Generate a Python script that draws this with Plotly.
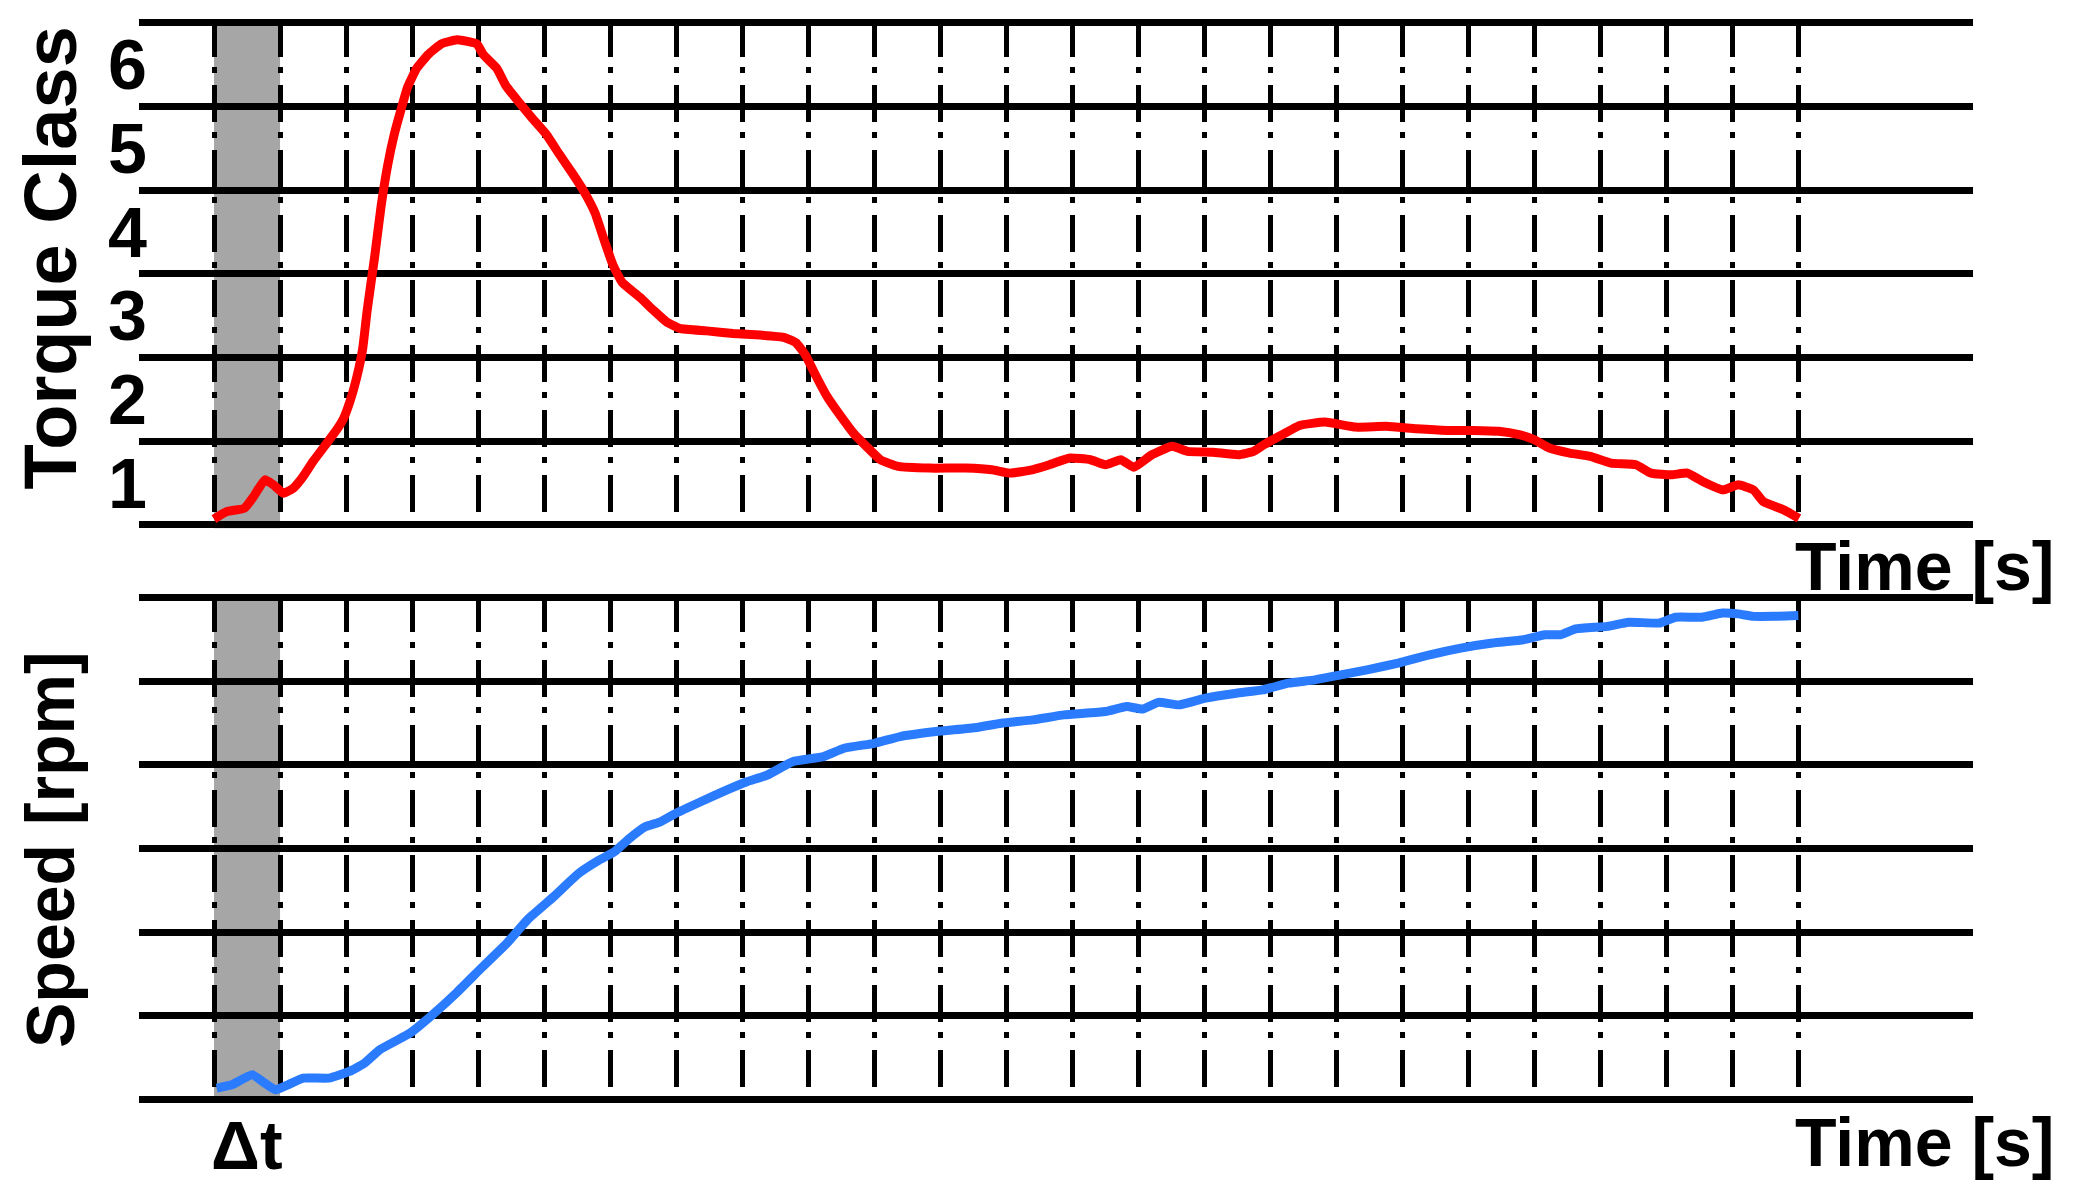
import plotly.graph_objects as go

# Zeitachse in Rasterschritten (25 Rasterlinien, 0..24)
grid_x = list(range(25))
grid_y = [0, 1, 2, 3, 4, 5, 6]
delta_t = [0, 1]

# Drehmoment-Klasse (rot)
torque_t = [0, 0.19, 0.46, 0.6, 0.77, 0.9, 1.05, 1.2, 1.35, 1.5, 1.71, 1.86, 1.96, 2.06, 2.16,
            2.25, 2.32, 2.43, 2.53, 2.63, 2.73, 2.83, 2.93, 3.07, 3.24, 3.44, 3.68, 3.84, 3.98,
            4.08, 4.28, 4.42, 4.62, 4.82, 5.03, 5.23, 5.43, 5.6, 5.77, 5.91, 6.04, 6.18, 6.45,
            6.65, 6.85, 7.05, 7.46, 7.86, 8.27, 8.64, 8.81, 8.95, 9.11, 9.28, 9.49, 9.69, 9.89,
            10.09, 10.36, 10.84, 11.38, 11.78, 12.05, 12.39, 12.65, 12.96, 13.27, 13.5, 13.73,
            13.93, 14.2, 14.51, 14.74, 15.12, 15.51, 15.74, 15.9, 16.13, 16.44, 16.82, 17.29,
            17.75, 18.21, 18.68, 19.06, 19.45, 19.76, 19.99, 20.22, 20.53, 20.84, 21.15, 21.53,
            21.76, 22.07, 22.31, 22.54, 22.85, 23.08, 23.31, 23.46, 23.77, 24.0]
torque_val = [0.07, 0.16, 0.2, 0.34, 0.54, 0.48, 0.38, 0.44, 0.58, 0.76, 0.98, 1.14, 1.27, 1.48, 1.76,
              2.1, 2.57, 3.19, 3.81, 4.3, 4.67, 4.96, 5.23, 5.46, 5.62, 5.75, 5.8, 5.78, 5.75,
              5.62, 5.46, 5.25, 5.05, 4.86, 4.67, 4.43, 4.2, 3.99, 3.73, 3.4, 3.11, 2.9, 2.72,
              2.57, 2.43, 2.35, 2.32, 2.29, 2.27, 2.24, 2.18, 2.04, 1.79, 1.54, 1.3, 1.09, 0.93,
              0.78, 0.7, 0.68, 0.68, 0.66, 0.62, 0.66, 0.72, 0.8, 0.78, 0.72, 0.78,
              0.69, 0.84, 0.94, 0.88, 0.87, 0.84, 0.88, 0.96, 1.06, 1.19, 1.23, 1.17,
              1.18, 1.15, 1.13, 1.13, 1.12, 1.08, 1.02, 0.92, 0.86, 0.82, 0.74, 0.72,
              0.62, 0.6, 0.62, 0.52, 0.42, 0.48, 0.42, 0.28, 0.18, 0.08]

# Drehzahl (blau)
speed_t = [0.04, 0.27, 0.58, 0.77, 0.93, 1.12, 1.35, 1.74, 2.05, 2.28, 2.51, 2.74, 2.97, 3.28,
           3.67, 4.05, 4.44, 4.75, 5.14, 5.52, 5.83, 6.06, 6.29, 6.53, 6.76, 6.99, 7.37, 7.76,
           8.07, 8.38, 8.76, 9.23, 9.54, 10.0, 10.39, 10.93, 11.55, 11.92, 12.4, 12.87, 13.5,
           13.82, 14.06, 14.3, 14.61, 15.01, 15.48, 15.88, 16.27, 16.67, 17.06, 17.46, 17.93,
           18.41, 18.88, 19.36, 19.83, 20.15, 20.39, 20.62, 21.1, 21.42, 21.89, 22.13, 22.53,
           22.84, 23.08, 23.31, 23.63, 23.99]
speed_val = [0.13, 0.17, 0.29, 0.19, 0.11, 0.17, 0.25, 0.25, 0.33, 0.43, 0.59, 0.69, 0.79, 0.99,
             1.27, 1.57, 1.87, 2.15, 2.42, 2.7, 2.86, 2.96, 3.12, 3.26, 3.32, 3.42, 3.56, 3.7,
             3.8, 3.88, 4.04, 4.1, 4.2, 4.26, 4.34, 4.4, 4.45, 4.5, 4.54, 4.6, 4.64,
             4.7, 4.67, 4.75, 4.72, 4.8, 4.86, 4.9, 4.98, 5.02, 5.08, 5.14, 5.22,
             5.32, 5.4, 5.46, 5.5, 5.56, 5.56, 5.63, 5.66, 5.71, 5.7, 5.77, 5.77,
             5.82, 5.81, 5.78, 5.78, 5.79]

class_pos = [0.5, 1.5, 2.5, 3.5, 4.5, 5.5]
class_labels = ["1", "2", "3", "4", "5", "6"]

FONT = "Liberation Sans, Arial, sans-serif"
GRID_DASH = "37px,10px,6px,12px"

fig = go.Figure()

fig.add_trace(go.Scatter(x=torque_t, y=torque_val, mode="lines",
                         line=dict(color="#FF0000", width=9, shape="spline", smoothing=0.4),
                         xaxis="x", yaxis="y"))
fig.add_trace(go.Scatter(x=speed_t, y=speed_val, mode="lines",
                         line=dict(color="#2B7BFF", width=9, shape="spline", smoothing=0.4),
                         xaxis="x2", yaxis="y2"))

# graues Δt-Fenster in beiden Diagrammen
for xr, yr in (("x", "y"), ("x2", "y2")):
    fig.add_shape(type="rect", xref=xr, yref=f"{yr} domain", x0=delta_t[0], x1=delta_t[1],
                  y0=0, y1=1, fillcolor="#A6A6A6", line=dict(width=0), layer="below")

x_axis = dict(range=[-1.1357, 26.635], tickvals=grid_x, showticklabels=False,
              showgrid=True, gridcolor="black", gridwidth=4.5, griddash=GRID_DASH,
              zeroline=False, showline=False, ticks="")
# horizontale Linien als Minor-Grid, Klassenbeschriftung mittig dazwischen
y_minor = dict(tickvals=grid_y, showgrid=True, gridcolor="black", gridwidth=6.5, ticks="")

fig.update_layout(
    width=2065, height=1187,
    margin=dict(l=131, r=100, t=0, b=0),
    paper_bgcolor="white", plot_bgcolor="white",
    showlegend=False,
    font=dict(family=FONT, color="black"),
    xaxis=dict(**x_axis, domain=[0, 1], anchor="y"),
    xaxis2=dict(**x_axis, domain=[0, 1], anchor="y2"),
    yaxis=dict(range=[-0.04, 6.04], domain=[0.56163, 0.99019], anchor="x",
               tickvals=class_pos, ticktext=class_labels, showgrid=False, zeroline=False,
               showline=False, ticks="", minor=y_minor, ticklabelstandoff=-9,
               tickfont=dict(size=70, family=FONT, weight="bold", color="black")),
    yaxis2=dict(range=[-0.04, 6.04], domain=[0.07806, 0.50577], anchor="x2",
                tickvals=class_pos, showticklabels=False, showgrid=False, zeroline=False,
                showline=False, ticks="", minor=y_minor),
)

annotations = [
    dict(text="Torque Class", x=-0.0485, y=0.789, size=74),
    dict(text="Speed [rpm]", x=-0.0485, y=0.2907, size=68),
]
for a in annotations:
    fig.add_annotation(text=a["text"], xref="paper", yref="paper", x=a["x"], y=a["y"],
                       xanchor="center", yanchor="middle", textangle=-90, showarrow=False,
                       font=dict(size=a["size"], family=FONT, weight="bold", color="black"))

title_font = dict(size=68, family=FONT, weight="bold", color="black")
for xr, ypos in (("x", 0.5299), ("x2", 0.0447)):
    fig.add_annotation(text="Time [s]", xref=xr, yref="paper", x=24, y=ypos, xanchor="left",
                       yanchor="middle", xshift=-6, showarrow=False, font=title_font)

fig.add_annotation(text="Δt", xref="x2", yref="paper", x=0.5, y=0.042, xanchor="center",
                   yanchor="middle", showarrow=False, font=title_font)

fig.write_html("out.html")
